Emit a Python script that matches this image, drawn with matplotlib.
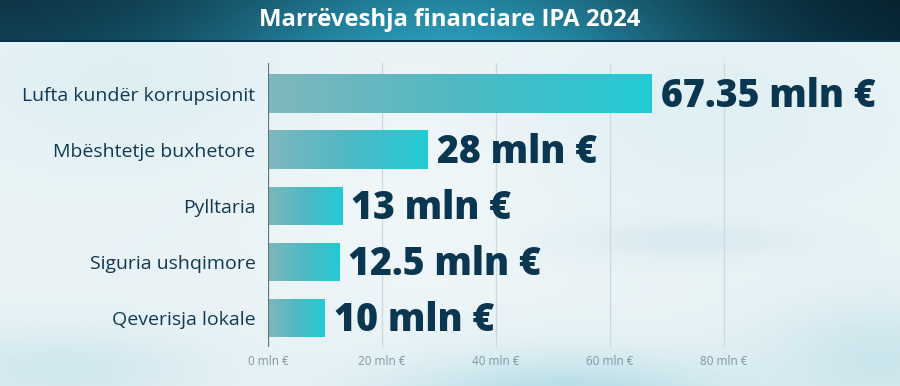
import numpy as np
import matplotlib
matplotlib.use("Agg")
import matplotlib.pyplot as plt
from matplotlib.colors import LinearSegmentedColormap, to_rgb
from matplotlib.patches import Rectangle

# ---- data ----
categories = ["Lufta kundër korrupsionit", "Mbështetje buxhetore", "Pylltaria",
              "Siguria ushqimore", "Qeverisja lokale"]
values = [67.35, 28, 13, 12.5, 10]
value_labels = ["67.35 mln €", "28 mln €", "13 mln €", "12.5 mln €", "10 mln €"]
tick_values = [0, 20, 40, 60, 80]
tick_labels = ["0 mln €", "20 mln €", "40 mln €", "60 mln €", "80 mln €"]
title = "Marrëveshja financiare IPA 2024"

W, H = 900, 386
fig = plt.figure(figsize=(W / 100, H / 100), dpi=100)

# ---- background ----
bg = fig.add_axes([0, 0, 1, 1])
bg.set_axis_off()
yy, xx = np.mgrid[0:H, 0:W]
base = np.array(to_rgb("#e9f3f6"))
img = np.ones((H, W, 3)) * base
def blob(cx, cy, sx, sy, col, a):
    g = np.exp(-(((xx - cx) / sx) ** 2 + ((yy - cy) / sy) ** 2))[..., None] * a
    return g, np.array(to_rgb(col))
for cx, cy, sx, sy, col, a in [
    (560, 400, 170, 45, "#a9d8e2", 0.85),
    (60, 370, 140, 40, "#bfe0e8", 0.6),
    (880, 360, 120, 60, "#b8dde6", 0.6),
    (700, 120, 180, 90, "#d8edf3", 0.5),
    (120, 80, 160, 80, "#d4ebf2", 0.5),
    (680, 240, 120, 18, "#cfe4ec", 0.6),
    (420, 200, 140, 120, "#f4f9fb", 0.6),
]:
    g, c = blob(cx, cy, sx, sy, col, a)
    img = img * (1 - g) + c * g
bg.imshow(img, extent=[0, W, H, 0], aspect="auto")
bg.set_xlim(0, W)
bg.set_ylim(H, 0)

# ---- banner ----
ban_h = 42
ban = fig.add_axes([0, 1 - ban_h / H, 1, ban_h / H])
ban.set_axis_off()
bx = np.linspace(0, 1, W)
left_c = np.array(to_rgb("#0f3c50"))
mid_c = np.array(to_rgb("#2a9bb9"))
right_c = np.array(to_rgb("#072433"))
t = bx[None, :, None]
w_mid = np.exp(-((bx - 0.5) / 0.28) ** 2)[None, :, None]
edge = left_c * (1 - t) + right_c * t
row = edge * (1 - w_mid) + mid_c * w_mid
vy = np.linspace(0, 1, ban_h)[:, None, None]
banner = row * (0.85 + 0.15 * vy)
banner = np.broadcast_to(np.clip(banner, 0, 1), (ban_h, W, 3)).copy()
banner[-2:, :, :] = to_rgb("#06324a")
ban.imshow(banner, extent=[0, W, ban_h, 0], aspect="auto")
ban.set_xlim(0, W)
ban.set_ylim(ban_h, 0)
ban.text(W / 2, 20, title, ha="center", va="center", color="white",
         fontsize=17.2, fontweight="bold", family=["Open Sans", "DejaVu Sans"])

# ---- main axes ----
px_per_unit = 5.7
ax_left = 268
ax_top = 63
ax_bot = 347
xmax = (W - ax_left) / px_per_unit
ax = fig.add_axes([ax_left / W, 1 - ax_bot / H, (W - ax_left) / W, (ax_bot - ax_top) / H])
ax.patch.set_alpha(0)
for s in ax.spines.values():
    s.set_visible(False)

for v in tick_values[1:]:
    ax.axvline(v, color="#c9d9df", lw=0.9, zorder=1)
ax.axvline(0, color="#5f7682", lw=1.6, zorder=4)

cmap = LinearSegmentedColormap.from_list("bar", ["#7fb7bd", "#4fb9c3", "#22cbd5"])
grad = np.linspace(0, 1, 256)[None, :]
bar_h = 0.69
ypos = np.arange(len(categories))
for i, (v, lab) in enumerate(zip(values, value_labels)):
    rect = Rectangle((0, i - bar_h / 2), v, bar_h, facecolor="none", edgecolor="none")
    ax.add_patch(rect)
    im = ax.imshow(grad, cmap=cmap, aspect="auto",
                   extent=[0, v, i + bar_h / 2, i - bar_h / 2], zorder=2)
    im.set_clip_path(rect)
    ax.text(v + 9 / px_per_unit, i + 0.05, lab, ha="left", va="center",
            fontsize=27, fontweight="heavy", color="#0b3650",
            family=["Open Sans", "DejaVu Sans"])

ax.set_xlim(0, xmax)
ax.set_ylim(4.52, -0.55)
ax.set_yticks(ypos)
ax.set_yticklabels(categories, fontsize=14, color="#113a52",
                   family=["Open Sans", "DejaVu Sans"])
ax.tick_params(axis="y", length=0, pad=9)
ax.set_xticks(tick_values)
ax.set_xticklabels(tick_labels, fontsize=8.5, color="#7d97a4",
                   family=["Open Sans", "DejaVu Sans"])
ax.tick_params(axis="x", length=0, pad=6)

fig.savefig("out.png", dpi=100)
